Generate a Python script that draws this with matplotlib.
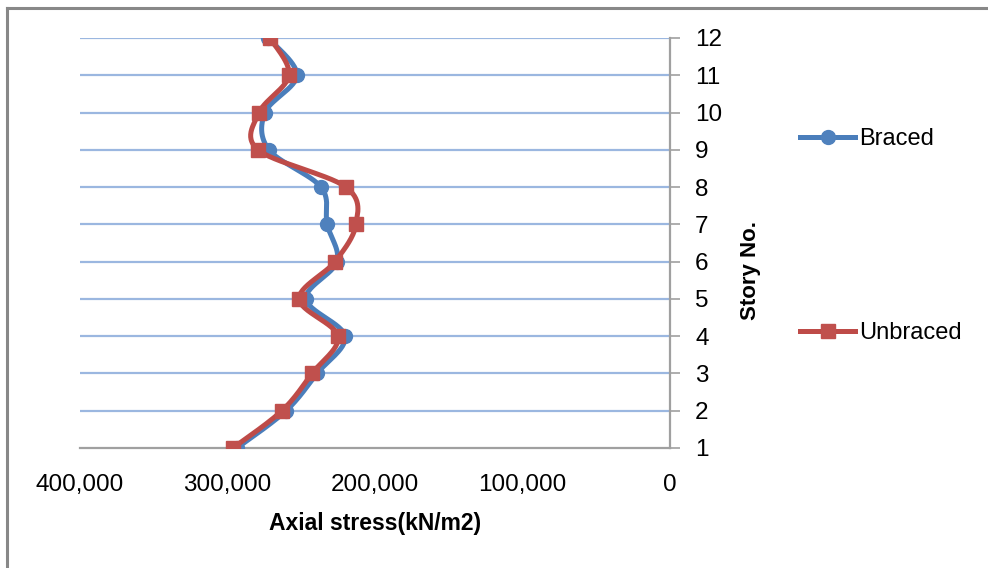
import numpy as np
import matplotlib
matplotlib.use("Agg")
import matplotlib.pyplot as plt
from matplotlib.lines import Line2D

stories = [1, 2, 3, 4, 5, 6, 7, 8, 9, 10, 11, 12]
braced = [293600, 260300, 239300, 220300, 246800, 225800, 232500, 236600, 271900, 274600, 252900, 272500]
unbraced = [296300, 263100, 242700, 225100, 251500, 227100, 212900, 219700, 279300, 278600, 258300, 271200]
x_ticks = [400000, 300000, 200000, 100000, 0]
x_ticklabels = ["400,000", "300,000", "200,000", "100,000", "0"]

plt.rcParams['font.family'] = ['Liberation Sans', 'DejaVu Sans']


def smooth(xs, ys, n=30):
    # Excel-like smoothing: Catmull-Rom Bezier (affine invariant)
    P = np.column_stack([xs, ys]).astype(float)
    out = [P[0]]
    m = len(P)
    for i in range(m - 1):
        p0 = P[i - 1] if i > 0 else P[i]
        p1 = P[i]
        p2 = P[i + 1]
        p3 = P[i + 2] if i + 2 < m else P[i + 1]
        c1 = p1 + (p2 - p0) / 6.0
        c2 = p2 - (p3 - p1) / 6.0
        t = np.linspace(0, 1, n)[1:, None]
        seg = ((1 - t) ** 3) * p1 + 3 * ((1 - t) ** 2) * t * c1 + 3 * (1 - t) * t ** 2 * c2 + t ** 3 * p2
        out.extend(seg)
    out = np.array(out)
    return out[:, 0], out[:, 1]


fig = plt.figure(figsize=(9.88, 5.68), dpi=100)
W, H = 988, 568
ax = fig.add_axes([80 / W, 1 - 448 / H, (670 - 80) / W, (448 - 38) / H])

blue_line = '#4A7EBB'
blue_mark = '#4F81BD'
red_line = '#BE4B48'
red_mark = '#C0504D'

for yv in stories[1:]:
    ax.axhline(yv, color='#9BB7E0', lw=1.6, zorder=1)

bx, by = smooth(braced, stories)
ux, uy = smooth(unbraced, stories)
ax.plot(bx, by, color=blue_line, lw=3.6, zorder=3, solid_capstyle='round')
ax.plot(braced, stories, 'o', color=blue_mark, ms=10, zorder=4)
ax.plot(ux, uy, color=red_line, lw=3.6, zorder=5, solid_capstyle='round')
ax.plot(unbraced, stories, 's', color=red_mark, ms=10.5, zorder=6)

ax.set_xlim(400000, 0)
ax.set_ylim(1, 12)
ax.set_xticks(x_ticks)
ax.set_xticklabels(x_ticklabels)
ax.set_yticks(stories)
ax.set_yticklabels([str(s) for s in stories])

for s in ['top', 'left']:
    ax.spines[s].set_visible(False)
ax.spines['bottom'].set_color('#A0A0A0')
ax.spines['bottom'].set_linewidth(1.6)
ax.spines['right'].set_color('#A0A0A0')
ax.spines['right'].set_linewidth(1.6)
ax.spines['bottom'].set_zorder(2)

ax.yaxis.tick_right()
ax.tick_params(axis='y', direction='out', length=7, width=1.2, color='#A0A0A0',
               labelsize=17.5, pad=11)
ax.tick_params(axis='x', length=0, labelsize=17.5, pad=19)
for lbl in ax.get_yticklabels():
    lbl.set_horizontalalignment('left')
ax.set_xlabel('Axial stress(kN/m2)', fontsize=16.5, fontweight='bold', labelpad=11)
fig.text(750 / W, 1 - 271 / H, 'Story No.', rotation=90, fontsize=16,
         fontweight='bold', ha='center', va='center')

handles = [
    Line2D([0], [0], color=blue_line, lw=3.6, marker='o', ms=10, mfc=blue_mark, mec=blue_mark),
    Line2D([0], [0], color=red_line, lw=3.6, marker='s', ms=10.5, mfc=red_mark, mec=red_mark),
]
fig.legend(handles, ['Braced', 'Unbraced'], loc='upper left',
           bbox_to_anchor=(800 / W, 1 - 128 / H), frameon=False, fontsize=17,
           labelspacing=7.3, handlelength=2.35, handletextpad=0.15, borderpad=0,
           borderaxespad=0)

# chart outer border (top and left)
fig.add_artist(Line2D([7 / W, 7 / W], [0, 1 - 7.5 / H], transform=fig.transFigure,
                      color='#888888', lw=2.2))
fig.add_artist(Line2D([7 / W, 1], [1 - 7.5 / H, 1 - 7.5 / H], transform=fig.transFigure,
                      color='#888888', lw=2.2))

fig.savefig('out.png', dpi=100)
